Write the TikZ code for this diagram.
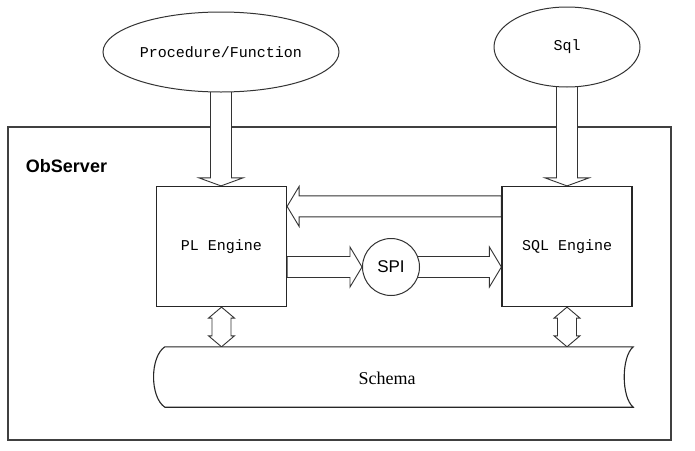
\documentclass[tikz,border=0pt]{standalone}
\usepackage{fontspec}
\setmainfont{Liberation Serif}
\newfontfamily\monof{Liberation Mono}
\newfontfamily\sansf{Liberation Sans}
\usetikzlibrary{calc,shapes.geometric}
\pgfdeclarelayer{bglayer}
\pgfdeclarelayer{arrlayer}
\pgfsetlayers{bglayer,arrlayer,main}
\tikzset{
  blockarrow/.style={draw=black!80, line width=0.9pt, fill=white, line join=miter},
  ellnode/.style={ellipse, draw=black!80, line width=1pt, fill=white, inner sep=0pt, font=\monof\fontsize{15}{15}\selectfont},
  engbox/.style={rectangle, draw=black!85, line width=1.2pt, fill=white, minimum width=130pt, minimum height=120pt, inner sep=0pt, font=\monof\fontsize{15}{15}\selectfont},
  spinode/.style={circle, draw=black!80, line width=1pt, fill=white, minimum size=57pt, inner sep=0pt, font=\sansf\fontsize{17}{17}\selectfont},
  schemabox/.style={minimum width=468pt, minimum height=60pt, inner sep=0pt},
  schemaline/.style={draw=black!85, line width=1.1pt, fill=white},
  outerline/.style={draw=black!75, line width=2pt},
}
% #1 start, #2 tip, #3 shaft half-width, #4 head half-width, #5 signed head length
\newcommand\harrowblk[5]{%
  \draw[blockarrow] let \p1=(#1), \p2=(#2), \n1={#5} in
    (\x1,{\y1+#3}) -- ({\x2-\n1},{\y1+#3}) -- ({\x2-\n1},{\y1+#4}) -- (\x2,\y1) --
    ({\x2-\n1},{\y1-#4}) -- ({\x2-\n1},{\y1-#3}) -- (\x1,{\y1-#3}) -- cycle;}
\newcommand\varrowblk[5]{%
  \draw[blockarrow] let \p1=(#1), \p2=(#2) in
    ({\x1+#3},\y1) -- ({\x1+#3},{\y2+#5}) -- ({\x1+#4},{\y2+#5}) -- (\x1,\y2) --
    ({\x1-#4},{\y2+#5}) -- ({\x1-#3},{\y2+#5}) -- ({\x1-#3},\y1) -- cycle;}
\newcommand\dvarrowblk[5]{%
  \draw[blockarrow] let \p1=(#1), \p2=(#2) in
    (\x1,\y1) -- ({\x1+#4},{\y1-#5}) -- ({\x1+#3},{\y1-#5}) -- ({\x1+#3},{\y2+#5}) --
    ({\x1+#4},{\y2+#5}) -- (\x1,\y2) -- ({\x1-#4},{\y2+#5}) -- ({\x1-#3},{\y2+#5}) --
    ({\x1-#3},{\y1-#5}) -- ({\x1-#4},{\y1-#5}) -- cycle;}
\begin{document}
\begin{tikzpicture}[x=1pt,y=-1pt]
\useasboundingbox (0,0) rectangle (695,450);
\begin{pgfonlayer}{bglayer}
  \fill[white] (0,0) rectangle (695,450);
  \draw[outerline] (8,127) rectangle (671,440);
\end{pgfonlayer}
\node[font=\sansf\bfseries\fontsize{18}{18}\selectfont] (obs) at (66.5,166) {ObServer};
\node[ellnode, minimum width=236pt, minimum height=80pt] (pf) at (221,52) {Procedure/Function};
\node[ellnode, minimum width=146pt, minimum height=80pt] (sqlq) at (567,47) {Sql};
\node[engbox] (pl) at (221.5,246.5) {PL Engine};
\node[engbox] (sqle) at (567,246.5) {SQL Engine};
\node[spinode] (spi) at (391,267) {SPI};
\node[schemabox] (schema) at (399,377) {};
\draw[schemaline] (schema.north west) -- (schema.north east)
  .. controls ($(schema.east)+(-12,-20)$) and ($(schema.east)+(-12,20)$) .. (schema.south east)
  -- (schema.south west)
  .. controls ($(schema.west)+(-15,20)$) and ($(schema.west)+(-15,-20)$) .. cycle;
\node[font=\fontsize{18}{18}\selectfont] (schemalabel) at (387,378) {Schema};
\coordinate (bk) at ($(sqle.north west)+(0,20.5)$);
\coordinate (bkend) at (bk -| pl.east);
\coordinate (spil) at (pl.east |- spi.center);
\coordinate (spir) at (sqle.west |- spi.center);
\coordinate (dl) at (pl.south |- schema.north);
\coordinate (dr) at (sqle.south |- schema.north);
\begin{pgfonlayer}{arrlayer}
  \varrowblk{pf.center}{pl.north}{10.5pt}{22pt}{8pt}
  \varrowblk{sqlq.center}{sqle.north}{10.5pt}{22pt}{8pt}
  \harrowblk{bk}{bkend}{10.5pt}{20pt}{-12pt}
  \harrowblk{spil}{spi.west}{10.5pt}{20pt}{12pt}
  \harrowblk{spi.center}{spir}{10.5pt}{20pt}{12pt}
  \dvarrowblk{pl.south}{dl}{9.5pt}{13pt}{11pt}
  \dvarrowblk{sqle.south}{dr}{9.5pt}{13pt}{11pt}
\end{pgfonlayer}
\end{tikzpicture}
\end{document}
